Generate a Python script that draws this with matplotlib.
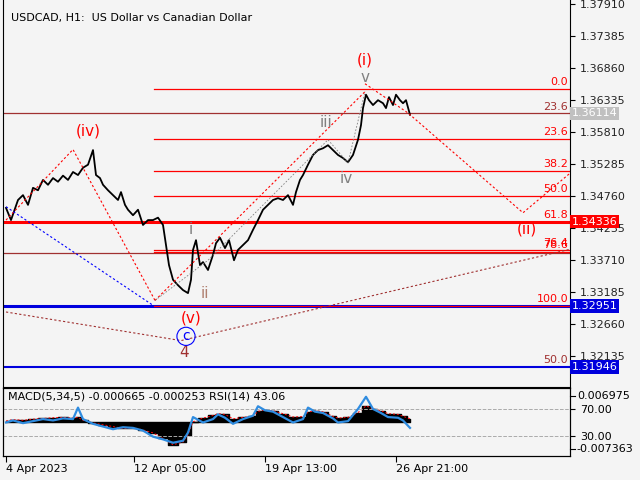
import numpy as np
import matplotlib
matplotlib.use("Agg")
from matplotlib import pyplot as plt

# price path (bar position, close)
bar_x = [3,8,15,20,25,30,35,40,45,50,55,60,65,70,75,80,85,90,93,97,100,105,110,115,118,122,125,130,135,140,
         145,150,155,160,163,166,170,175,180,185,188,190,193,197,200,205,210,213,217,222,226,231,235,240,245,
         250,255,260,265,270,275,280,285,290,293,297,300,305,310,315,320,325,330,335,340,345,350,355,358,360,
         363,366,370,375,380,383,386,390,393,397,400,403,407]
close = [1.3456,1.3436,1.3469,1.3477,1.3461,1.3489,1.3485,1.3502,1.3494,1.3505,1.3499,1.3509,1.3502,1.3515,
         1.3510,1.3522,1.3527,1.3551,1.3510,1.3505,1.3494,1.3485,1.3477,1.3469,1.3482,1.3461,1.3453,1.3444,
         1.3453,1.3428,1.3436,1.3436,1.3440,1.3428,1.3395,1.3362,1.3338,1.3329,1.3321,1.3316,1.3338,1.3387,
         1.3403,1.3362,1.3367,1.3354,1.3379,1.3398,1.3407,1.3390,1.3403,1.3370,1.3387,1.3395,1.3403,1.3420,
         1.3436,1.3453,1.3461,1.3469,1.3472,1.3469,1.3477,1.3461,1.3482,1.3502,1.3510,1.3527,1.3543,1.3551,
         1.3554,1.3559,1.3551,1.3543,1.3538,1.3531,1.3543,1.3568,1.3592,1.3620,1.3642,1.3633,1.3625,1.3633,
         1.3628,1.3620,1.3638,1.3625,1.3642,1.3633,1.3628,1.3633,1.3609]

# fibo levels
fib_labels = ["0.0", "23.6", "38.2", "50.0", "61.8", "76.4", "78.6", "100.0"]
fib_prices = [1.36514, 1.35692, 1.35167, 1.34760, 1.34336, 1.33870, 1.33840, 1.32951]
price_ticks = [1.37910,1.37385,1.36860,1.36335,1.35810,1.35285,1.34760,1.34235,1.33710,1.33185,1.32660,1.32135]

# indicator panel
ind_x = [3,10,20,30,40,50,60,70,75,80,90,100,110,120,130,140,150,160,170,180,185,190,200,210,215,
         222,230,240,250,255,262,270,280,290,300,305,312,320,330,335,345,355,363,370,378,385,395,400,407]
rsi = [50,53,49,52,55,53,56,55,72,55,48,44,40,43,42,38,29,25,20,23,35,58,50,55,62,57,48,55,60,74,
       68,66,58,50,55,72,66,64,56,50,52,70,88,70,64,58,57,53,42]
macd = [0.0002,0.0006,0.0004,0.0007,0.0009,0.0011,0.0012,0.0010,0.0012,0.0004,-0.0003,-0.0008,-0.0013,
        -0.0018,-0.0016,-0.0022,-0.0030,-0.0045,-0.0062,-0.0055,-0.0035,0.0000,0.0010,0.0017,0.0022,
        0.0020,0.0008,0.0012,0.0015,0.0028,0.0032,0.0030,0.0022,0.0013,0.0014,0.0026,0.0030,0.0027,
        0.0015,0.0010,0.0012,0.0025,0.0043,0.0035,0.0030,0.0022,0.0020,0.0015,0.0008]

bg = "#f4f4f4"
fig = plt.figure(figsize=(6.4, 4.8), dpi=100, facecolor=bg)
ax = fig.add_axes([3/640, 93/480, 567/640, 387/480], facecolor=bg)
ax.set_xlim(0, 567)
top = 1.37976
ax.set_ylim(top - 387*0.0001643, top)
for s in ax.spines.values():
    s.set_color("black"); s.set_linewidth(0.8)
ax.spines["top"].set_visible(False)
ax.yaxis.tick_right()
ax.set_yticks(price_ticks)
ax.set_yticklabels(["%.5f" % p for p in price_ticks], fontsize=8, color="#222222")
ax.set_xticks([])

# horizontal levels
ax.axhline(1.36114, color="#a03030", lw=0.9)
ax.axhline(1.34336, color="red", lw=2.2)
ax.axhline(1.33820, color="#a03030", lw=0.9)
ax.axhline(1.32951, color="#0000dd", lw=2.2)
ax.axhline(1.31946, color="#0000dd", lw=1.5)
for lab, p in zip(fib_labels, fib_prices):
    ax.plot([151, 567], [p, p], color="red", lw=0.9)
    ax.text(565, p + 0.0003, lab, color="red", fontsize=8, ha="right", va="bottom")
ax.text(565, 1.36114 + 0.0003, "23.6", color="#a03030", fontsize=8, ha="right", va="bottom")
ax.text(565, 1.31946 + 0.0003, "50.0", color="#a03030", fontsize=8, ha="right", va="bottom")

# price line
ax.plot(bar_x, close, color="black", lw=1.3)

# wave lines
ax.plot([3, 70, 152], [1.3436, 1.3552, 1.3304], color="red", ls=(0, (2, 2)), lw=0.8)
ax.plot([152, 362], [1.3304, 1.3647], color="red", ls=(0, (2, 2)), lw=0.8)
ax.plot([362, 405, 520, 567], [1.3660, 1.3612, 1.3448, 1.3513], color="red", ls=(0, (2, 2)), lw=0.8)
ax.plot([3, 150], [1.3458, 1.3296], color="blue", ls=(0, (2, 2)), lw=0.8)
ax.plot([3, 178, 567], [1.3285, 1.3238, 1.3388], color="#a03030", ls=(0, (2, 2)), lw=0.8)
ax.plot([152, 205, 325, 345, 362], [1.3304, 1.3370, 1.3568, 1.3530, 1.3647], color="grey", ls=(0, (2, 2)), lw=0.6)

labels = [("(iv)", 85, 1.3582, "red"), ("(i)", 362, 1.3699, "red"), ("v", 362, 1.3670, "grey"),
          ("iii", 323, 1.3597, "grey"), ("iv", 343, 1.3505, "grey"), ("i", 188, 1.3421, "grey"),
          ("ii", 202, 1.3315, "#b08070"), ("(v)", 188, 1.3275, "red"), ("4", 181, 1.3219, "#a03030"),
          ("(ii)", 524, 1.3422, "red")]
for t, x, y, c in labels:
    ax.text(x, y, t, color=c, fontsize=11, ha="center", va="center")
ax.text(183, 1.3245, "c", color="blue", fontsize=10, ha="center", va="center",
        bbox=dict(boxstyle="circle,pad=0.15", fc="none", ec="blue", lw=0.8))
ax.text(8, 1.3768, "USDCAD, H1:  US Dollar vs Canadian Dollar", fontsize=8, va="center")

for p, fc, tc in [(1.36114, "#c0c0c0", "white"), (1.34336, "red", "white"),
                  (1.32951, "#0000dd", "white"), (1.31946, "#0000dd", "white")]:
    ax.text(1.003, p, "%.5f" % p, transform=ax.get_yaxis_transform(), fontsize=8, color=tc,
            va="center", ha="left", bbox=dict(boxstyle="square,pad=0.15", fc=fc, ec="none"))

# indicator panel
ax2 = fig.add_axes([3/640, 24/480, 567/640, 68/480], facecolor=bg)
ax2.set_xlim(0, 567)
ax2.set_ylim(-0.00926, 0.00914)
ax2.fill_between(ind_x, 0, macd, color="black", step="mid")
ax2.plot(ind_x, macd, color="red", ls=(0, (2, 2)), lw=0.7)
ax2.set_xticks([3, 131, 262, 393])
ax2.set_xticklabels(["4 Apr 2023", "12 Apr 05:00", "19 Apr 13:00", "26 Apr 21:00"], fontsize=8, ha="left")
ax2.tick_params(axis="x", length=4, pad=2)
ax3 = ax2.twinx()
ax3.set_ylim(0.4, 101)
ax3.axhline(70, color="#aaaaaa", ls="--", lw=0.7)
ax3.axhline(30, color="#aaaaaa", ls="--", lw=0.7)
ax3.plot(ind_x, rsi, color="#2f8ce0", lw=1.6)
ax3.set_yticks([70, 30])
ax3.set_yticklabels(["70.00", "30.00"], fontsize=8)
ax2.set_yticks([])
trans = ax2.get_yaxis_transform()
for v in (0.006975, -0.007363):
    ax2.plot([1.0, 1.008], [v, v], transform=trans, color="black", lw=0.8, clip_on=False)
    ax2.text(1.012, v, "%.6f" % v if v > 0 else "%.6f" % v, transform=trans, fontsize=8,
             va="center", ha="left")
ax3.text(5, 88, "MACD(5,34,5) -0.000665 -0.000253 RSI(14) 43.06", fontsize=8, va="center")
for a in (ax2, ax3):
    for s in a.spines.values():
        s.set_linewidth(0.8)

fig.savefig("out.png", dpi=100, facecolor=bg)
